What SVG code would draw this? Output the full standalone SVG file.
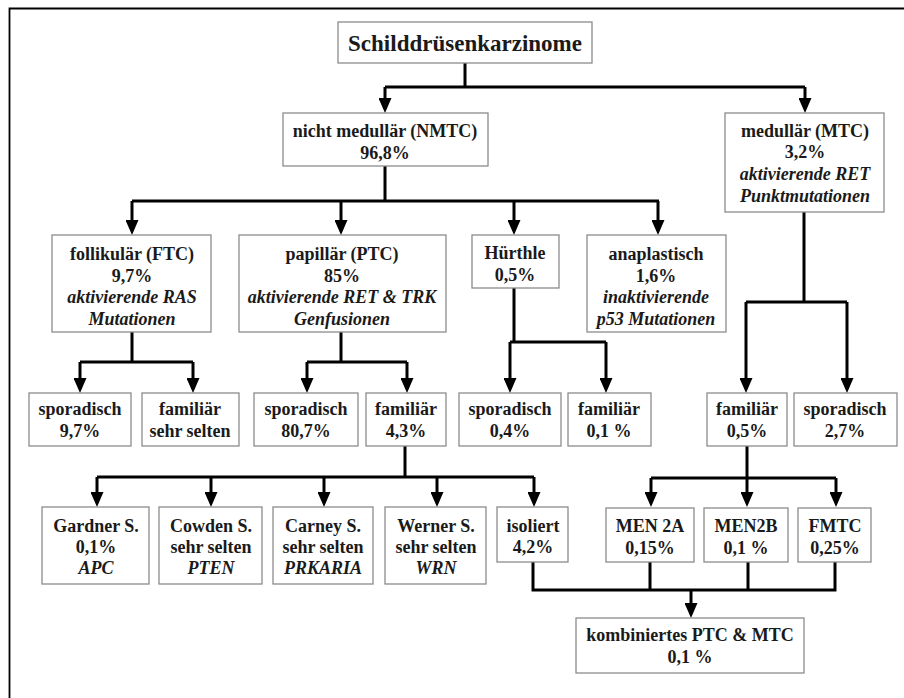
<svg xmlns="http://www.w3.org/2000/svg" width="904" height="698" viewBox="0 0 904 698">
<style>
.box{fill:#fff;stroke:#8c8c8c;stroke-width:1.3}
.t{font-family:"Liberation Serif","Times New Roman",serif;font-weight:bold;font-size:18px;fill:#1a1a1a;text-anchor:middle}
.i{font-style:italic}
.title{font-size:23px}
.c{fill:none;stroke:#000;stroke-width:3}
.frame{fill:none;stroke:#000;stroke-width:1.8}
</style>
<defs>
<marker id="ah" viewBox="0 0 15 13" refX="11" refY="6.5" markerWidth="15" markerHeight="13" markerUnits="userSpaceOnUse" orient="auto">
<path d="M0,0 L15,6.5 L0,13 z" fill="#000"/>
</marker>
</defs>
<rect width="904" height="698" fill="#fff"/>
<path class="frame" d="M9.5,698 V8.5 H904"/>

<g id="connectors">
<path class="c" d="M465,63 V87 M385,87 H805"/>
<path class="c" d="M385,87 V109" marker-end="url(#ah)"/>
<path class="c" d="M805,87 V109" marker-end="url(#ah)"/>
<path class="c" d="M385,166 V201 M132,201 H659"/>
<path class="c" d="M132,201 V231" marker-end="url(#ah)"/>
<path class="c" d="M341,201 V231" marker-end="url(#ah)"/>
<path class="c" d="M514,201 V231" marker-end="url(#ah)"/>
<path class="c" d="M658,201 V231" marker-end="url(#ah)"/>
<path class="c" d="M132,332 V362 M80,362 H193"/>
<path class="c" d="M80,362 V389" marker-end="url(#ah)"/>
<path class="c" d="M193,362 V389" marker-end="url(#ah)"/>
<path class="c" d="M341,332 V362 M307,362 H407"/>
<path class="c" d="M307,362 V389" marker-end="url(#ah)"/>
<path class="c" d="M407,362 V389" marker-end="url(#ah)"/>
<path class="c" d="M514,288 V342 M510,342 H606"/>
<path class="c" d="M510,342 V389" marker-end="url(#ah)"/>
<path class="c" d="M606,342 V389" marker-end="url(#ah)"/>
<path class="c" d="M804,212 V302 M746,302 H847"/>
<path class="c" d="M746,302 V389" marker-end="url(#ah)"/>
<path class="c" d="M847,302 V389" marker-end="url(#ah)"/>
<path class="c" d="M405,446 V477 M97,477 H534"/>
<path class="c" d="M97,477 V503" marker-end="url(#ah)"/>
<path class="c" d="M211,477 V503" marker-end="url(#ah)"/>
<path class="c" d="M324,477 V503" marker-end="url(#ah)"/>
<path class="c" d="M437,477 V503" marker-end="url(#ah)"/>
<path class="c" d="M534,477 V503" marker-end="url(#ah)"/>
<path class="c" d="M747,446 V478 M651,478 H836"/>
<path class="c" d="M651,478 V503" marker-end="url(#ah)"/>
<path class="c" d="M747,478 V503" marker-end="url(#ah)"/>
<path class="c" d="M836,478 V503" marker-end="url(#ah)"/>
<path class="c" d="M533,562 V590 H835 V562 M650,562 V590 M748,562 V590"/>
<path class="c" d="M691,590 V614" marker-end="url(#ah)"/>
</g>

<g id="n-root"><rect class="box" x="338" y="22" width="254" height="41"/><text class="t title" x="465" y="51">Schilddrüsenkarzinome</text></g>
<g id="n-nmtc"><rect class="box" x="283" y="113" width="205" height="53"/><text class="t" x="385" y="137">nicht medullär (NMTC)</text><text class="t" x="385" y="159">96,8%</text></g>
<g id="n-mtc"><rect class="box" x="725" y="113" width="159" height="99"/><text class="t" x="805" y="137">medullär (MTC)</text><text class="t" x="805" y="158">3,2%</text><text class="t i" x="805" y="180">aktivierende RET</text><text class="t i" x="805" y="202">Punktmutationen</text></g>

<g id="n-ftc"><rect class="box" x="52" y="235" width="159" height="97"/><text class="t" x="132" y="260">follikulär (FTC)</text><text class="t" x="132" y="282">9,7%</text><text class="t i" x="132" y="303">aktivierende RAS</text><text class="t i" x="132" y="325">Mutationen</text></g>
<g id="n-ptc"><rect class="box" x="239" y="235" width="207" height="97"/><text class="t" x="342" y="260">papillär (PTC)</text><text class="t" x="342" y="282">85%</text><text class="t i" x="342" y="303">aktivierende RET &amp; TRK</text><text class="t i" x="342" y="325">Genfusionen</text></g>
<g id="n-huerthle"><rect class="box" x="472" y="235" width="87" height="53"/><text class="t" x="515" y="259">Hürthle</text><text class="t" x="515" y="281">0,5%</text></g>
<g id="n-ana"><rect class="box" x="587" y="235" width="139" height="97"/><text class="t" x="656" y="260">anaplastisch</text><text class="t" x="656" y="282">1,6%</text><text class="t i" x="656" y="303">inaktivierende</text><text class="t i" x="656" y="325">p53 Mutationen</text></g>

<g id="n-ftc-spor"><rect class="box" x="29" y="393" width="102" height="53"/><text class="t" x="80" y="415">sporadisch</text><text class="t" x="80" y="437">9,7%</text></g>
<g id="n-ftc-fam"><rect class="box" x="142" y="393" width="97" height="53"/><text class="t" x="190" y="415">familiär</text><text class="t" x="190" y="437">sehr selten</text></g>
<g id="n-ptc-spor"><rect class="box" x="254" y="393" width="104" height="53"/><text class="t" x="306" y="415">sporadisch</text><text class="t" x="306" y="437">80,7%</text></g>
<g id="n-ptc-fam"><rect class="box" x="366" y="393" width="80" height="53"/><text class="t" x="406" y="415">familiär</text><text class="t" x="406" y="437">4,3%</text></g>
<g id="n-h-spor"><rect class="box" x="459" y="393" width="102" height="53"/><text class="t" x="510" y="415">sporadisch</text><text class="t" x="510" y="437">0,4%</text></g>
<g id="n-h-fam"><rect class="box" x="568" y="393" width="83" height="53"/><text class="t" x="609" y="415">familiär</text><text class="t" x="609" y="437">0,1 %</text></g>
<g id="n-mtc-fam"><rect class="box" x="707" y="393" width="80" height="53"/><text class="t" x="747" y="415">familiär</text><text class="t" x="747" y="437">0,5%</text></g>
<g id="n-mtc-spor"><rect class="box" x="794" y="393" width="103" height="53"/><text class="t" x="845" y="415">sporadisch</text><text class="t" x="845" y="437">2,7%</text></g>

<g id="n-gardner"><rect class="box" x="42" y="507" width="107" height="77"/><text class="t" x="96" y="532">Gardner S.</text><text class="t" x="96" y="553">0,1%</text><text class="t i" x="96" y="574">APC</text></g>
<g id="n-cowden"><rect class="box" x="159" y="507" width="103" height="77"/><text class="t" x="211" y="532">Cowden S.</text><text class="t" x="211" y="553">sehr selten</text><text class="t i" x="211" y="574">PTEN</text></g>
<g id="n-carney"><rect class="box" x="273" y="507" width="100" height="77"/><text class="t" x="323" y="532">Carney S.</text><text class="t" x="323" y="553">sehr selten</text><text class="t i" x="323" y="574">PRKARIA</text></g>
<g id="n-werner"><rect class="box" x="385" y="507" width="101" height="77"/><text class="t" x="436" y="532">Werner S.</text><text class="t" x="436" y="553">sehr selten</text><text class="t i" x="436" y="574">WRN</text></g>
<g id="n-isoliert"><rect class="box" x="497" y="507" width="71" height="55"/><text class="t" x="533" y="532">isoliert</text><text class="t" x="533" y="553">4,2%</text></g>
<g id="n-men2a"><rect class="box" x="606" y="508" width="88" height="54"/><text class="t" x="650" y="532">MEN 2A</text><text class="t" x="650" y="554">0,15%</text></g>
<g id="n-men2b"><rect class="box" x="704" y="508" width="84" height="54"/><text class="t" x="746" y="532">MEN2B</text><text class="t" x="746" y="554">0,1 %</text></g>
<g id="n-fmtc"><rect class="box" x="798" y="508" width="73" height="54"/><text class="t" x="835" y="532">FMTC</text><text class="t" x="835" y="554">0,25%</text></g>

<g id="n-kombi"><rect class="box" x="576" y="618" width="228" height="55"/><text class="t" x="690" y="641">kombiniertes PTC &amp; MTC</text><text class="t" x="690" y="663">0,1 %</text></g>
</svg>
